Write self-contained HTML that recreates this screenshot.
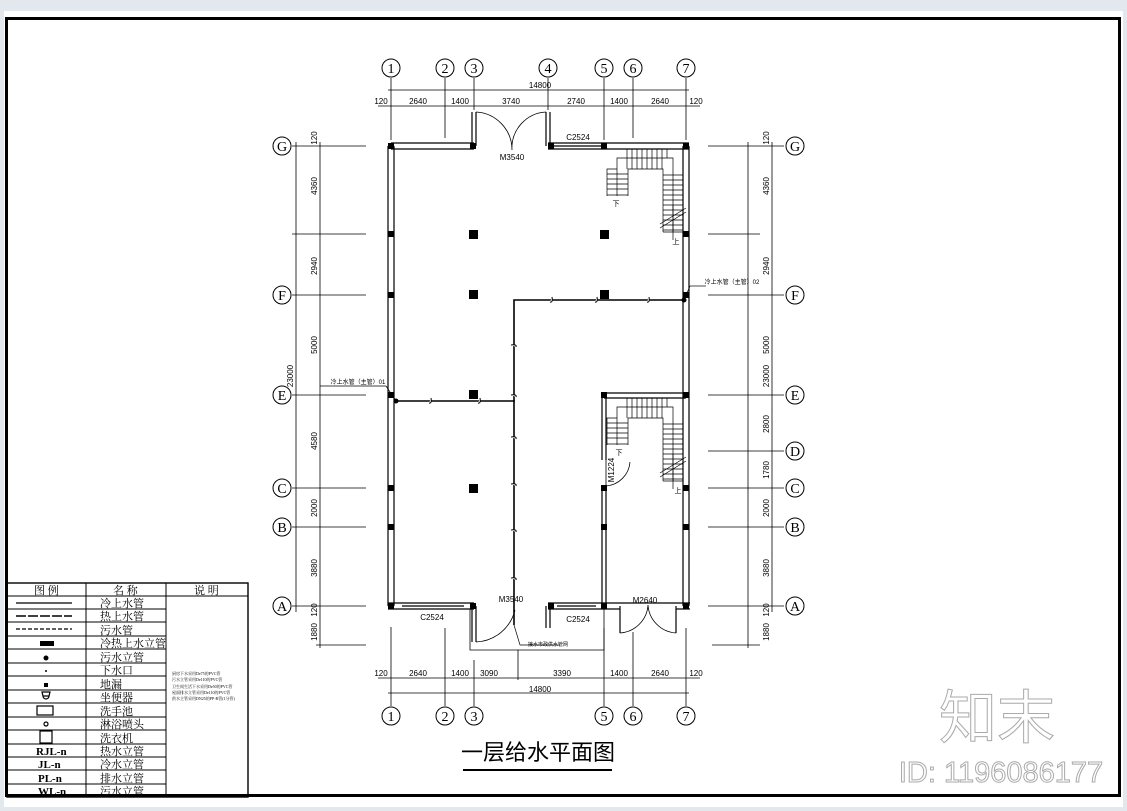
<!DOCTYPE html>
<html><head><meta charset="utf-8"><style>
html,body{margin:0;padding:0;background:#e2e8ee;}
svg{display:block;font-family:"Liberation Sans","Noto Sans CJK SC",sans-serif;}
</style></head><body>
<svg width="1127" height="811" viewBox="0 0 1127 811" xmlns="http://www.w3.org/2000/svg">
<rect x="4" y="11" width="1119" height="796" fill="#fff"/>
<rect x="6.5" y="18.5" width="1113" height="777" fill="none" stroke="#000" stroke-width="3"/>

<g stroke="#000" fill="none" stroke-width="1">
<g stroke-width="0.8">
<line x1="391" y1="78" x2="391" y2="140"/><line x1="445" y1="78" x2="445" y2="138"/><line x1="474" y1="78" x2="474" y2="110"/><line x1="548" y1="78" x2="548" y2="110"/><line x1="604" y1="78" x2="604" y2="140"/><line x1="633" y1="78" x2="633" y2="138"/><line x1="686" y1="78" x2="686" y2="140"/>
<line x1="391" y1="627" x2="391" y2="706"/><line x1="445" y1="628" x2="445" y2="706"/><line x1="474" y1="660" x2="474" y2="706"/><line x1="604" y1="628" x2="604" y2="706"/><line x1="633" y1="632" x2="633" y2="706"/><line x1="686" y1="628" x2="686" y2="706"/><line x1="518" y1="650" x2="518" y2="680"/>
<line x1="388" y1="90" x2="689" y2="90"/><line x1="378" y1="106" x2="700" y2="106"/>
<line x1="378" y1="678" x2="700" y2="678"/><line x1="388" y1="693" x2="689" y2="693"/>
<line x1="292" y1="146" x2="366" y2="146"/><line x1="292" y1="234" x2="366" y2="234"/><line x1="292" y1="295" x2="366" y2="295"/><line x1="292" y1="395" x2="366" y2="395"/><line x1="292" y1="488" x2="366" y2="488"/><line x1="292" y1="527" x2="366" y2="527"/><line x1="292" y1="606" x2="366" y2="606"/><line x1="316" y1="645" x2="366" y2="645"/>
<line x1="708" y1="146" x2="784" y2="146"/><line x1="708" y1="234" x2="760" y2="234"/><line x1="708" y1="295" x2="784" y2="295"/><line x1="708" y1="395" x2="784" y2="395"/><line x1="708" y1="451" x2="784" y2="451"/><line x1="708" y1="488" x2="784" y2="488"/><line x1="708" y1="527" x2="784" y2="527"/><line x1="708" y1="606" x2="784" y2="606"/><line x1="712" y1="645" x2="760" y2="645"/>
<line x1="296" y1="142" x2="296" y2="612"/><line x1="320" y1="142" x2="320" y2="648"/>
<line x1="748" y1="142" x2="748" y2="648"/><line x1="772" y1="142" x2="772" y2="612"/>
</g>
<g stroke-width="1.2">
<line x1="388" y1="146" x2="388" y2="606"/><line x1="394" y1="146" x2="394" y2="606"/>
<line x1="683" y1="146" x2="683" y2="606"/><line x1="689" y1="146" x2="689" y2="606"/>
<line x1="391" y1="143" x2="474" y2="143"/><line x1="391" y1="149" x2="474" y2="149"/>
<line x1="548" y1="143" x2="689" y2="143"/><line x1="548" y1="149" x2="689" y2="149"/>
<line x1="548" y1="146" x2="604" y2="146"/>
<line x1="472" y1="112" x2="472" y2="146"/><line x1="476" y1="112" x2="476" y2="146"/>
<line x1="546" y1="112" x2="546" y2="146"/><line x1="550" y1="112" x2="550" y2="146"/>
<path d="M476,112 A38,38 0 0 1 512,150 M546,112 A36,36 0 0 0 512,150" stroke-width="0.8"/>
<line x1="388" y1="603" x2="474" y2="603"/><line x1="388" y1="609" x2="474" y2="609"/>
<line x1="548" y1="603" x2="690" y2="603"/><line x1="548" y1="609" x2="620" y2="609"/><line x1="676" y1="609" x2="690" y2="609"/>
<line x1="402" y1="606" x2="464" y2="606"/><line x1="557" y1="606" x2="596" y2="606"/>
<line x1="472" y1="606" x2="472" y2="642"/><line x1="476" y1="606" x2="476" y2="642"/>
<line x1="546" y1="606" x2="546" y2="628"/><line x1="550" y1="606" x2="550" y2="628"/>
<path d="M476,642 A42,42 0 0 0 515,610" stroke-width="0.8"/>
<path d="M470,609 V650 H604 V609" stroke-width="0.8"/>
<line x1="620" y1="606" x2="620" y2="633"/><line x1="676" y1="606" x2="676" y2="633"/>
<path d="M620,633 A30,30 0 0 0 648,605 M676,633 A30,30 0 0 1 648,605" stroke-width="0.8"/>
<line x1="602" y1="395" x2="602" y2="460"/><line x1="606" y1="395" x2="606" y2="460"/>
<line x1="602" y1="486" x2="602" y2="606"/><line x1="606" y1="486" x2="606" y2="606"/>
<line x1="604" y1="393" x2="686" y2="393"/><line x1="604" y1="398" x2="686" y2="398"/>
<path d="M606,460 V486 A26,26 0 0 0 630,462" stroke-width="0.8"/>
</g>
<g stroke-width="0.7">
<path d="M607,196 V169 H617 V158 H673 V169 M628,196 V169 H663 V232 M617,169 V196 M673,169 V232 M663,232 H683"/>
<path d="M627,149V169M632,149V169M637,149V169M642,149V169M647,149V169M652,149V169M657,149V169M662,149V169M667,149V158"/>
<path d="M607,174H628M607,179H628M607,184H628M607,189H628M607,195H628"/>
<path d="M663,175H683M663,180H683M663,185H683M663,190H683M663,195H683M663,200H683M663,205H683M663,210H683M663,215H683M663,220H683M663,225H683M663,230H683"/>
<line x1="660" y1="228" x2="686" y2="212"/><line x1="660" y1="224" x2="686" y2="208"/><line x1="673" y1="205" x2="673" y2="240"/>
<g transform="translate(0,249)">
<path d="M607,196 V169 H617 V158 H673 V169 M628,196 V169 H663 V232 M617,169 V196 M673,169 V232 M663,232 H683"/>
<path d="M627,149V169M632,149V169M637,149V169M642,149V169M647,149V169M652,149V169M657,149V169M662,149V169M667,149V158"/>
<path d="M607,174H628M607,179H628M607,184H628M607,189H628M607,195H628"/>
<path d="M663,175H683M663,180H683M663,185H683M663,190H683M663,195H683M663,200H683M663,205H683M663,210H683M663,215H683M663,220H683M663,225H683M663,230H683"/>
<line x1="660" y1="228" x2="686" y2="212"/><line x1="660" y1="224" x2="686" y2="208"/><line x1="673" y1="205" x2="673" y2="240"/>
</g>
</g>
<g stroke-width="1.6">
<path d="M396,401 H514 V300 H682"/><line x1="514" y1="400" x2="514" y2="625"/>
</g>
<g stroke-width="1" fill="#fff">
<path d="M431,398 q1,6 -2,5 M480,398 q1,6 -2,5 M552,297 q1,6 -2,5 M597,297 q1,6 -2,5 M649,297 q1,6 -2,5"/>
<path d="M511,345 q6,-1 5,2 M511,395 q6,-1 5,2 M511,437 q6,-1 5,2 M511,484 q6,-1 5,2 M511,530 q6,-1 5,2 M511,578 q6,-1 5,2"/>
</g>
<g stroke-width="0.7">
<line x1="320" y1="386" x2="386" y2="386"/><line x1="386" y1="386" x2="396" y2="401"/>
<line x1="706" y1="286" x2="690" y2="286"/><line x1="690" y1="286" x2="684" y2="300"/>
<line x1="514" y1="625" x2="520" y2="645"/><line x1="520" y1="645" x2="560" y2="645"/>
</g>
</g>
<g fill="#000">
<rect x="388" y="143" width="6" height="6"/><rect x="470" y="143" width="6" height="6"/><rect x="548" y="143" width="6" height="6"/><rect x="601" y="143" width="6" height="6"/><rect x="683" y="143" width="6" height="6"/>
<rect x="388" y="231" width="6" height="6"/><rect x="683" y="231" width="6" height="6"/><rect x="388" y="292" width="6" height="6"/><rect x="683" y="292" width="6" height="6"/>
<rect x="388" y="392" width="6" height="6"/><rect x="683" y="392" width="6" height="6"/><rect x="601" y="392" width="6" height="6"/>
<rect x="388" y="485" width="6" height="6"/><rect x="683" y="485" width="6" height="6"/><rect x="601" y="485" width="6" height="6"/>
<rect x="388" y="524" width="6" height="6"/><rect x="683" y="524" width="6" height="6"/><rect x="601" y="524" width="6" height="6"/>
<rect x="388" y="603" width="6" height="6"/><rect x="470" y="603" width="6" height="6"/><rect x="548" y="603" width="6" height="6"/><rect x="601" y="603" width="6" height="6"/><rect x="683" y="603" width="6" height="6"/>
<rect x="469" y="230" width="9" height="9"/><rect x="600" y="230" width="9" height="9"/><rect x="469" y="290" width="9" height="9"/><rect x="600" y="290" width="9" height="9"/>
<rect x="469" y="390" width="9" height="9"/><rect x="469" y="484" width="9" height="9"/>
<circle cx="396" cy="401" r="2.5"/><circle cx="684" cy="300" r="2.5"/>
</g>
<g fill="#fff" stroke="#000" stroke-width="1">
<circle cx="391" cy="68" r="9"/><circle cx="445" cy="68" r="9"/><circle cx="474" cy="68" r="9"/><circle cx="548" cy="68" r="9"/><circle cx="604" cy="68" r="9"/><circle cx="633" cy="68" r="9"/><circle cx="686" cy="68" r="9"/>
<circle cx="391" cy="716" r="9"/><circle cx="445" cy="716" r="9"/><circle cx="474" cy="716" r="9"/><circle cx="604" cy="716" r="9"/><circle cx="633" cy="716" r="9"/><circle cx="686" cy="716" r="9"/>
<circle cx="282" cy="146" r="9"/><circle cx="282" cy="295" r="9"/><circle cx="282" cy="395" r="9"/><circle cx="282" cy="488" r="9"/><circle cx="282" cy="527" r="9"/><circle cx="282" cy="606" r="9"/>
<circle cx="795" cy="146" r="9"/><circle cx="795" cy="295" r="9"/><circle cx="795" cy="395" r="9"/><circle cx="795" cy="451" r="9"/><circle cx="795" cy="488" r="9"/><circle cx="795" cy="527" r="9"/><circle cx="795" cy="606" r="9"/>
</g>
<g font-size="14" text-anchor="middle" font-family="Liberation Serif,serif">
<text x="391" y="73">1</text><text x="445" y="73">2</text><text x="474" y="73">3</text><text x="548" y="73">4</text><text x="604" y="73">5</text><text x="633" y="73">6</text><text x="686" y="73">7</text>
<text x="391" y="721">1</text><text x="445" y="721">2</text><text x="474" y="721">3</text><text x="604" y="721">5</text><text x="633" y="721">6</text><text x="686" y="721">7</text>
<text x="282" y="151">G</text><text x="282" y="300">F</text><text x="282" y="400">E</text><text x="282" y="493">C</text><text x="282" y="532">B</text><text x="282" y="611">A</text>
<text x="795" y="151">G</text><text x="795" y="300">F</text><text x="795" y="400">E</text><text x="795" y="456">D</text><text x="795" y="493">C</text><text x="795" y="532">B</text><text x="795" y="611">A</text>
</g>
<g font-size="8" text-anchor="middle">
<text x="540" y="88">14800</text>
<text x="381" y="104">120</text><text x="418" y="104">2640</text><text x="460" y="104">1400</text><text x="511" y="104">3740</text><text x="576" y="104">2740</text><text x="619" y="104">1400</text><text x="660" y="104">2640</text><text x="696" y="104">120</text>
<text x="381" y="676">120</text><text x="418" y="676">2640</text><text x="460" y="676">1400</text><text x="489" y="676">3090</text><text x="562" y="676">3390</text><text x="619" y="676">1400</text><text x="660" y="676">2640</text><text x="696" y="676">120</text>
<text x="540" y="692">14800</text>
<text x="578" y="140">C2524</text><text x="512" y="160">M3540</text><text x="432" y="620">C2524</text><text x="511" y="602">M3540</text><text x="578" y="622">C2524</text><text x="645" y="603">M2640</text>
<text x="616" y="206" font-size="7">下</text><text x="676" y="244" font-size="7">上</text><text x="619" y="455" font-size="7">下</text><text x="678" y="493" font-size="7">上</text>
<text x="358" y="384" font-size="6">冷上水管（主管）01</text><text x="732" y="284" font-size="6">冷上水管（主管）02</text><text x="548" y="646" font-size="5">接水市政供水管网</text>
</g>
<g font-size="8" text-anchor="middle">
<text transform="translate(317,186) rotate(-90)">4360</text><text transform="translate(317,266) rotate(-90)">2940</text><text transform="translate(317,345) rotate(-90)">5000</text><text transform="translate(317,441) rotate(-90)">4580</text><text transform="translate(317,508) rotate(-90)">2000</text><text transform="translate(317,568) rotate(-90)">3880</text><text transform="translate(317,610) rotate(-90)">120</text><text transform="translate(317,632) rotate(-90)">1880</text><text transform="translate(293,376) rotate(-90)">23000</text><text transform="translate(317,138) rotate(-90)">120</text>
<text transform="translate(769,186) rotate(-90)">4360</text><text transform="translate(769,266) rotate(-90)">2940</text><text transform="translate(769,345) rotate(-90)">5000</text><text transform="translate(769,424) rotate(-90)">2800</text><text transform="translate(769,470) rotate(-90)">1780</text><text transform="translate(769,508) rotate(-90)">2000</text><text transform="translate(769,568) rotate(-90)">3880</text><text transform="translate(769,610) rotate(-90)">120</text><text transform="translate(769,632) rotate(-90)">1880</text><text transform="translate(769,376) rotate(-90)">23000</text><text transform="translate(769,138) rotate(-90)">120</text>
<text transform="translate(614,470) rotate(-90)">M1224</text>
</g>
<text x="538" y="760" font-size="22" text-anchor="middle" font-family="Liberation Sans,Noto Sans CJK SC,sans-serif">一层给水平面图</text>
<line x1="463" y1="770" x2="612" y2="770" stroke="#000" stroke-width="2"/>
<g stroke="#000" fill="none" stroke-width="1">
<rect x="7" y="583" width="241" height="214" stroke-width="1.4"/>
<line x1="86" y1="583" x2="86" y2="797"/><line x1="166" y1="583" x2="166" y2="797"/>
<path d="M7,596H248M7,609H166M7,622H166M7,636H166M7,649H166M7,663H166M7,676H166M7,690H166M7,703H166M7,717H166M7,730H166M7,744H166M7,757H166M7,770H166M7,784H166"/>
<path d="M16,603H72" stroke-width="1.2"/><path d="M16,616H72" stroke-width="1.5" stroke-dasharray="10,2"/><path d="M16,629H72" stroke-width="1.2" stroke-dasharray="4,2"/>
</g>
<g fill="#000" font-size="11" font-family="Liberation Serif,Noto Serif CJK SC,serif">
<text x="34" y="594">图 例</text><text x="113" y="594">名 称</text><text x="194" y="594">说 明</text>
<text x="100" y="607">冷上水管</text><text x="100" y="620">热上水管</text><text x="100" y="634">污水管</text><text x="100" y="647">冷热上水立管</text><text x="100" y="661">污水立管</text><text x="100" y="674">下水口</text><text x="100" y="688">地漏</text><text x="100" y="701">坐便器</text><text x="100" y="715">洗手池</text><text x="100" y="728">淋浴喷头</text><text x="100" y="742">洗衣机</text><text x="100" y="755">热水立管</text><text x="100" y="768">冷水立管</text><text x="100" y="782">排水立管</text><text x="100" y="795">污水立管</text>
<text x="36" y="755" font-weight="bold">RJL-n</text><text x="38" y="768" font-weight="bold">JL-n</text><text x="38" y="782" font-weight="bold">PL-n</text><text x="38" y="795" font-weight="bold">WL-n</text>
<rect x="40" y="641" width="14" height="5"/><circle cx="46" cy="658" r="2.5"/><circle cx="46" cy="671" r="1"/><rect x="44" y="683" width="4" height="4"/>
<g font-size="4"><text x="172" y="675">厨房下水采用De75的PVC管</text><text x="172" y="681">污水立管采用De110的PVC管</text><text x="172" y="688">卫生间生活下水采用De50的PVC管</text><text x="172" y="694">屋面排水立管采用De110的PVC管</text><text x="172" y="700">供水主管采用DN25的PP-R管(1分管)</text></g>
</g>
<g fill="none" stroke="#000" stroke-width="1.2"><path d="M42,692h8l-1,4h-6z M43,696 a3,3 0 0 0 6,0"/><rect x="37" y="706" width="16" height="9"/><circle cx="46" cy="724" r="2"/><rect x="40" y="731" width="12" height="12"/></g>
<text x="997" y="738" font-size="58" text-anchor="middle" fill="#fff" stroke="#aaa" stroke-width="1">知末</text>
<text x="1001" y="782" font-size="29" text-anchor="middle" fill="#fff" stroke="#aaa" stroke-width="1">ID: 1196086177</text>
</svg>
</body></html>
